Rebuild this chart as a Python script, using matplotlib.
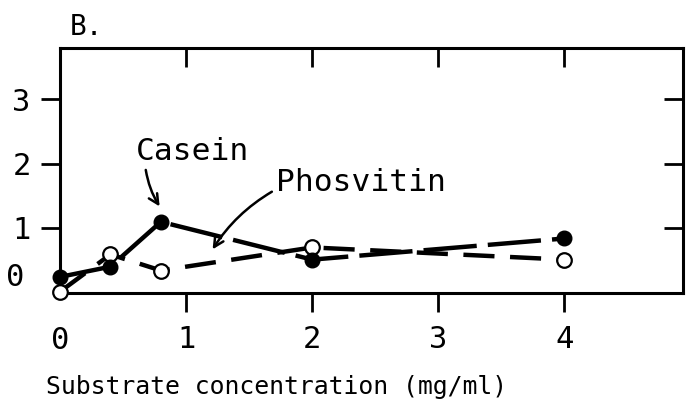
import matplotlib
matplotlib.use("Agg")
import matplotlib.pyplot as plt
from matplotlib.transforms import blended_transform_factory

# values
conc = [0, 0.4, 0.8, 2, 4]
casein = [0.23, 0.39, 1.09, 0.5, 0.83]
phosvitin = [0.0, 0.58, 0.33, 0.69, 0.5]
xticks = [1, 2, 3, 4]
yticks = [1, 2, 3]

plt.rcParams["font.family"] = ["DejaVu Sans Mono"]
FS_TICK = 22
FS_NOTE = 22.5
FS_LABEL = 17.8

fig = plt.figure(figsize=(6.86, 4.12), dpi=100)
ax = fig.add_axes([0.0875, 0.289, 0.908, 0.594])

ax.plot(conc, phosvitin, color="black", lw=3.2, dashes=(7, 3.5),
        marker="o", ms=10.5, mfc="white", mec="black", mew=1.6, clip_on=False, zorder=3)
ax.plot(conc, casein, color="black", lw=3.2, dashes=(12, 2.5),
        marker="o", ms=10.5, mfc="black", mec="black", clip_on=False, zorder=4)

ax.set_xlim(0, 4.94)
ax.set_ylim(-0.02, 3.8)

for s in ax.spines.values():
    s.set_linewidth(2.2)

ax.set_xticks(xticks)
ax.set_yticks(yticks)
ax.tick_params(axis="x", direction="out", length=14, width=2, labelsize=FS_TICK, pad=9)
ax.tick_params(axis="y", direction="out", length=14, width=2, labelsize=FS_TICK, pad=7)
ax.tick_params(axis="x", which="major", top=True)
ax.tick_params(axis="y", which="major", right=True)

# inward ticks on top and right
for t in ax.xaxis.get_major_ticks():
    t.tick2line.set_marker(3)  # TICKDOWN
for t in ax.yaxis.get_major_ticks():
    t.tick2line.set_marker(0)  # TICKLEFT

# "0" labels without tick marks
trx = blended_transform_factory(ax.transData, ax.transAxes)
ax.text(0, -0.196, "0", transform=trx, ha="center", va="center", fontsize=FS_TICK)
try_ = blended_transform_factory(ax.transAxes, ax.transData)
ax.text(-0.072, 0.22, "0", transform=try_, ha="center", va="center", fontsize=FS_TICK)

ax.set_xlabel("Substrate concentration (mg/ml)", fontsize=FS_LABEL)
ax.xaxis.set_label_coords(0.348, -0.384)
ax.xaxis.label.set_va("center")

fig.text(0.102, 0.934, "B.", fontsize=20, ha="left", va="center")

arrow = dict(arrowstyle="->,head_length=0.7,head_width=0.35", lw=1.8, color="black")
ax.text(1.05, 2.19, "Casein", fontsize=FS_NOTE, ha="center", va="center")
ax.annotate("", xy=(0.79, 1.33), xytext=(0.68, 1.9),
            arrowprops=dict(arrow, connectionstyle="arc3,rad=0.1", shrinkA=0, shrinkB=0))
ax.text(2.39, 1.70, "Phosvitin", fontsize=FS_NOTE, ha="center", va="center")
ax.annotate("", xy=(1.21, 0.66), xytext=(1.68, 1.56),
            arrowprops=dict(arrow, connectionstyle="arc3,rad=0.12", shrinkA=0, shrinkB=0))

fig.savefig("out.png", dpi=100)
